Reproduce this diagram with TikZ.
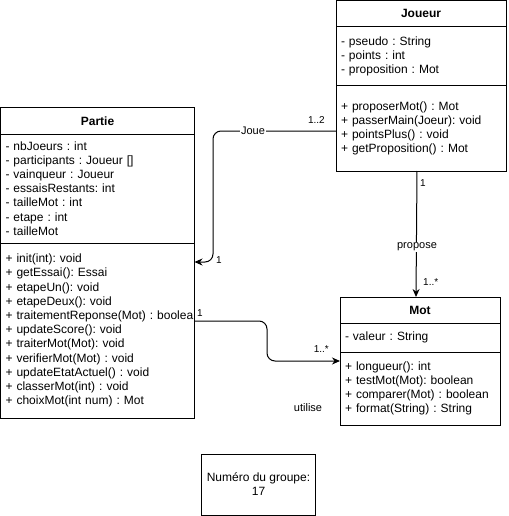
\documentclass[tikz,border=0pt]{standalone}
\usepackage{fontspec}
\setmainfont{Liberation Sans}
\frenchspacing
\usetikzlibrary{arrows.meta,positioning}

\tikzset{
  clsbox/.style={draw=black,line width=1pt,outer sep=0pt,inner xsep=5pt,inner ysep=0pt},
  clstitle/.style={clsbox,align=center,font=\bfseries\fontsize{12}{14}\selectfont},
  clscomp/.style={clsbox,align=left,font=\fontsize{12}{14.2}\selectfont},
  mult/.style={inner sep=1pt,font=\fontsize{10}{12}\selectfont},
  rolelbl/.style={fill=white,inner sep=1pt,font=\fontsize{11}{13}\selectfont},
  assoc/.style={->,line width=1pt,rounded corners=8pt},
}

\begin{document}
\begin{tikzpicture}[x=1pt,y=-1pt,>={Stealth[length=8pt,width=7pt]}]
  \useasboundingbox (0,0) rectangle (508,516);

  % classe Partie
  \node[clstitle,text width=184pt,minimum height=26pt,anchor=north west] (partie) at (0.5,108) {Partie};
  \node[clscomp,text width=184pt,minimum height=109pt,below=0pt of partie] (partieAttr) {- nbJoeurs : int\\- participants : Joueur []\\- vainqueur : Joueur\\- essaisRestants: int\\- tailleMot : int\\- etape : int\\- tailleMot};
  \node[clscomp,text width=184pt,minimum height=175pt,below=0pt of partieAttr] (partieOps) {+ init(int): void\\+ getEssai(): Essai\\+ etapeUn(): void\\+ etapeDeux(): void\\\makebox[0pt][l]{+ traitementReponse(Mot) : boolea}\\+ updateScore(): void\\+ traiterMot(Mot): void\\+ verifierMot(Mot) : void\\+ updateEtatActuel() : void\\+ classerMot(int) : void\\+ choixMot(int num) : Mot};

  % classe Joueur
  \node[clstitle,text width=160pt,minimum height=26.5pt,anchor=north west] (joueur) at (336,0.5) {Joueur};
  \node[clscomp,text width=160pt,minimum height=59pt,below=0pt of joueur] (joueurAttr) {- pseudo : String\\- points : int\\- proposition : Mot};
  \node[clscomp,text width=160pt,minimum height=85pt,below=0pt of joueurAttr] (joueurOps) {+ proposerMot() : Mot\\+ passerMain(Joeur): void\\+ pointsPlus() : void\\+ getProposition() : Mot};

  % classe Mot
  \node[clstitle,text width=150pt,minimum height=26pt,anchor=north west] (mot) at (340,297) {Mot};
  \node[clscomp,text width=150pt,minimum height=29pt,below=0pt of mot] (motAttr) {- valeur : String};
  \node[clscomp,text width=150pt,minimum height=73pt,below=0pt of motAttr] (motOps) {+ longueur(): int\\+ testMot(Mot): boolean\\+ comparer(Mot) : boolean\\+ format(String) : String};

  \node[clsbox,minimum width=111pt,minimum height=61pt,align=center,font=\fontsize{12}{14}\selectfont] (groupe) at (258.5,484.5) {Numéro du groupe:\\17};

  % associations
  \coordinate (joueBend) at (213,262);
  \draw[assoc] ([yshift=-2.5pt]joueurOps.west) -| (joueBend) -- ([yshift=-19pt]partieOps.north east);
  \node[rolelbl] (joueLbl) at (253,131) {Joue};
  \node[mult,anchor=south east] (joueM1) at (326,125) {1..2};
  \node[mult,anchor=south west] (joueM2) at (215,265) {1};

  \draw[assoc] ([xshift=-4pt]joueurOps.south) -- ([xshift=-4pt]mot.north);
  \node[rolelbl] (proposeLbl) at (417,247) {propose};
  \node[mult,anchor=west] (proposeM1) at (419,183) {1};
  \node[mult,anchor=west] (proposeM2) at (422,282) {1..*};

  \coordinate (utiliseBend) at (267,341);
  \draw[assoc] ([yshift=-78pt]partieOps.north east) -| (utiliseBend) |- ([yshift=-9pt]motOps.north west);
  \node[mult,anchor=west] (utiliseM1) at (196,313) {1};
  \node[mult,anchor=east] (utiliseM2) at (330,349) {1..*};
  \node[rolelbl] (utiliseLbl) at (308,408) {utilise};
\end{tikzpicture}
\end{document}
